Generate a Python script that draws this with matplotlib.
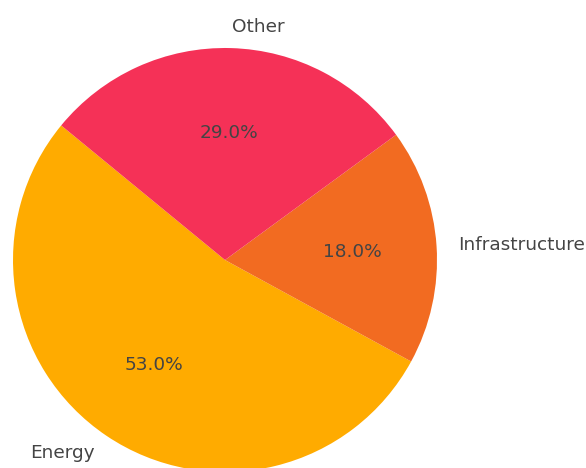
import matplotlib.pyplot as plt

categories = ['Energy', 'Infrastructure', 'Other']
shares = [53.0, 18.0, 29.0]
colors = ['#FFAB00', '#F26B21', '#F53157']

fig = plt.figure(figsize=(5.86, 4.68), dpi=100)
ax = fig.add_axes([13 / 586, -4 / 468, 424 / 586, 424 / 468])

wedges, texts, autotexts = ax.pie(
    shares,
    labels=categories,
    colors=colors,
    autopct='%1.1f%%',
    startangle=140.6,
    textprops={'fontsize': 13.3, 'color': '#444444'},
)
ax.set_xlim(-1, 1)
ax.set_ylim(-1, 1)
ax.set_aspect('equal')

fig.savefig('out.png', dpi=100)
